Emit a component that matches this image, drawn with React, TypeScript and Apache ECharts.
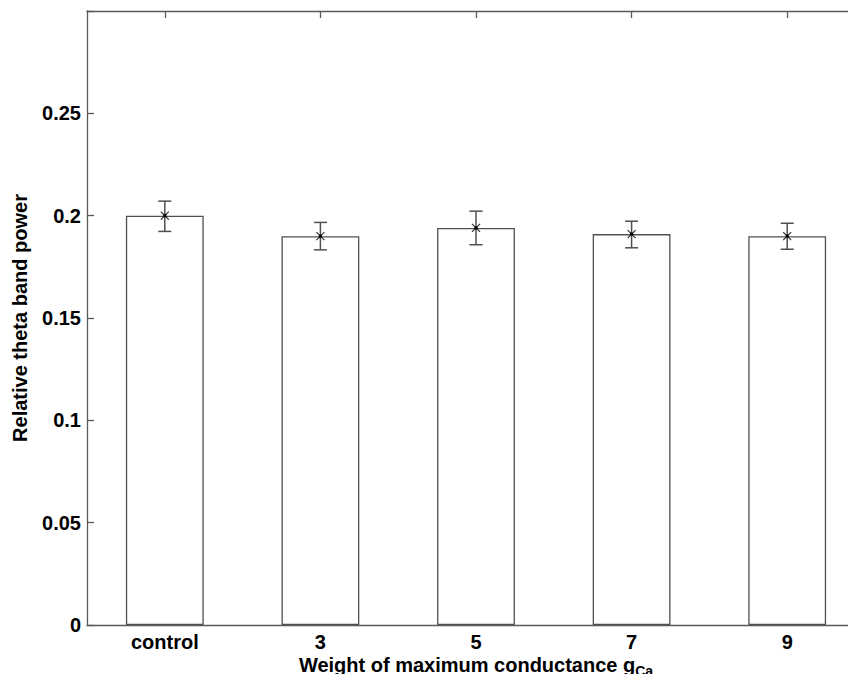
import React, { useEffect, useRef } from "react";
import * as echarts from "echarts";

const categories = ["control", "3", "5", "7", "9"];
const means = [0.2, 0.19, 0.194, 0.191, 0.19];
const errLow = [0.1923, 0.1833, 0.1858, 0.1843, 0.1836];
const errHigh = [0.2071, 0.1967, 0.2022, 0.1973, 0.1963];
const yTicks = [0, 0.05, 0.1, 0.15, 0.2, 0.25, 0.3];

const FONT = "'Liberation Sans', Arial, Helvetica, sans-serif";
const AX = "#5a5a5a";

export default function App() {
  const ref = useRef<HTMLDivElement>(null);
  useEffect(() => {
    if (!ref.current) return;
    const chart = echarts.init(ref.current, null, { renderer: "svg" });
    const errData = categories.map((_, i) => [i, errLow[i], errHigh[i], means[i]]);
    chart.setOption({
      animation: false,
      backgroundColor: "#ffffff",
      grid: { left: 87, top: 11, right: -9, bottom: 57, outerBoundsMode: "none", containLabel: false },
      xAxis: [
        {
          type: "category",
          data: categories,
          position: "bottom",
          axisLine: { lineStyle: { color: AX, width: 1.3 } },
          axisTick: { show: false },
          axisLabel: { color: "#000", fontSize: 20, fontWeight: "bold", fontFamily: FONT, margin: 7 },
          name: "{a|Weight of maximum conductance g}{sub|Ca}",
          nameLocation: "middle",
          nameGap: 30,
          nameMoveOverlap: false,
          nameTextStyle: {
            color: "#000",
            fontSize: 20,
            fontWeight: "bold",
            fontFamily: FONT,
            verticalAlign: "top",
            rich: {
              a: { fontSize: 20, fontWeight: "bold", fontFamily: FONT, color: "#000", verticalAlign: "top" },
              sub: { fontSize: 14, fontWeight: "bold", fontFamily: FONT, color: "#000", verticalAlign: "bottom", padding: [9, 0, 0, 0] },
            },
          },
        },
        {
          type: "category",
          data: categories,
          position: "top",
          axisLine: { show: true, lineStyle: { color: AX, width: 1.3 } },
          axisTick: { show: true, inside: true, alignWithLabel: true, length: 7, lineStyle: { color: AX, width: 1.3 } },
          axisLabel: { show: false },
        },
      ],
      yAxis: {
        type: "value",
        min: 0,
        max: 0.3,
        interval: 0.05,
        splitLine: { show: false },
        axisLine: { show: true, lineStyle: { color: AX, width: 1.3 } },
        axisTick: { show: true, inside: true, length: 7, lineStyle: { color: AX, width: 1.3 } },
        axisLabel: {
          color: "#000",
          fontSize: 20,
          fontWeight: "bold",
          fontFamily: FONT,
          margin: 6,
          formatter: (v: number) => {
            const t = yTicks.find((x) => Math.abs(x - v) < 1e-9);
            if (t === undefined || Math.abs(v - 0.3) < 1e-9) return "";
            return String(Math.round(t * 100) / 100);
          },
        },
        name: "Relative theta band power",
        nameLocation: "middle",
        nameGap: 57,
        nameMoveOverlap: false,
        nameTextStyle: { color: "#000", fontSize: 20, fontWeight: "bold", fontFamily: FONT },
      },
      series: [
        {
          type: "bar",
          data: means,
          barWidth: "50%",
          itemStyle: { color: "#ffffff", borderColor: "#505050", borderWidth: 1.3 },
          z: 2,
        },
        {
          type: "custom",
          data: errData,
          z: 5,
          renderItem: (params: any, api: any) => {
            const i = api.value(0);
            const lo = api.coord([i, api.value(1)]);
            const hi = api.coord([i, api.value(2)]);
            const m = api.coord([i, api.value(3)]);
            const x = lo[0];
            const cap = 6.5;
            const s = 4;
            const ls = { stroke: "#505050", lineWidth: 1.5 };
            return {
              type: "group",
              children: [
                { type: "line", shape: { x1: x, y1: lo[1], x2: x, y2: hi[1] }, style: ls },
                { type: "line", shape: { x1: x - cap, y1: lo[1], x2: x + cap, y2: lo[1] }, style: ls },
                { type: "line", shape: { x1: x - cap, y1: hi[1], x2: x + cap, y2: hi[1] }, style: ls },
                { type: "line", shape: { x1: x - s, y1: m[1] - s, x2: x + s, y2: m[1] + s }, style: { stroke: "#333", lineWidth: 1.2 } },
                { type: "line", shape: { x1: x - s, y1: m[1] + s, x2: x + s, y2: m[1] - s }, style: { stroke: "#333", lineWidth: 1.2 } },
                { type: "rect", shape: { x: x - 1.5, y: m[1] - 1.5, width: 3, height: 3 }, style: { fill: "#000" } },
              ],
            };
          },
        },
      ],
    });
    return () => chart.dispose();
  }, []);
  return <div ref={ref} style={{ width: 856, height: 682, margin: -8 }} />;
}
